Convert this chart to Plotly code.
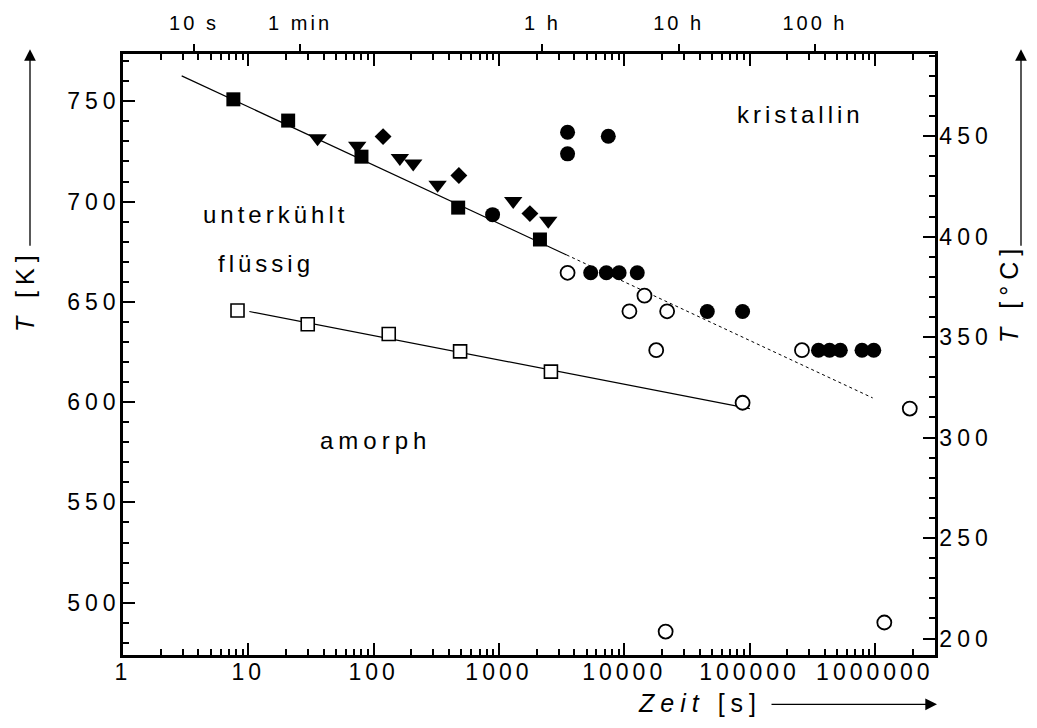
import plotly.graph_objects as go

# ---------------- data (time in s, temperature in K) ----------------
sq_t = [7.6, 20.8, 80, 473, 2125]
sq_T = [751.0, 740.4, 722.4, 697.0, 681.1]

tri_t = [35.7, 74, 162, 207, 324, 1300, 2476]
tri_T = [731.6, 727.8, 721.8, 719.0, 708.4, 700.3, 690.4]

dia_t = [119, 479, 1767]
dia_T = [732.4, 713.0, 694.0]

fc_t = [890, 3530, 3530, 7460, 5400, 7200, 9100, 12700, 46000, 88000,
        355000, 435000, 530000, 790000, 980000]
fc_T = [693.5, 734.6, 723.8, 732.6, 664.5, 664.5, 664.5, 664.5, 645.2, 645.2,
        625.9, 625.9, 625.9, 625.9, 625.9]

oc_t = [3530, 14500, 11000, 22000, 18000, 88000, 262000, 1900000, 21400, 1190000]
oc_T = [664.5, 653.1, 645.3, 645.3, 625.9, 599.7, 625.9, 596.8, 485.6, 490.1]

osq_t = [8.2, 29.8, 132, 490, 2600]
osq_T = [645.7, 638.8, 634.0, 625.3, 615.2]

fit_solid_t = [2.94, 3470]
fit_solid_T = [762.7, 673.4]
fit_dot_t = [3470, 961000]
fit_dot_T = [673.4, 602.1]
fit_am_t = [10.2, 100600]
fit_am_T = [645.2, 596.8]

bottom_ticks = [1, 10, 100, 1000, 10000, 100000, 1000000]
bottom_labels = ["1", "10", "100", "1000", "10000", "100000", "1000000"]
top_ticks = [10, 60, 3600, 36000, 360000]
top_labels = ["10 s", "1 min", "1 h", "10 h", "100 h"]
left_ticks = [500, 550, 600, 650, 700, 750]
right_ticks = [200, 250, 300, 350, 400, 450]

# ---------------- layout geometry ----------------
W, H = 1037, 728
L, R, T, B = 123, 935, 34, 655
FONT = "Liberation Sans, Arial, sans-serif"


def sp(s, ls=4):
    return '<span style="letter-spacing:%spx">%s</span>' % (ls, s)


def px(x):
    return (x - L) / (R - L)


def py(y):
    return (B - y) / (B - T)


fig = go.Figure()

line_style = dict(color="black", width=1.2)
fig.add_trace(go.Scatter(x=fit_solid_t, y=fit_solid_T, mode="lines", line=line_style))
fig.add_trace(go.Scatter(x=fit_dot_t, y=fit_dot_T, mode="lines",
                         line=dict(color="black", width=1, dash="dot")))
fig.add_trace(go.Scatter(x=fit_am_t, y=fit_am_T, mode="lines", line=line_style))

fig.add_trace(go.Scatter(x=sq_t, y=sq_T, mode="markers",
                         marker=dict(symbol="square", size=14, color="black")))
fig.add_trace(go.Scatter(x=tri_t, y=tri_T, mode="markers",
                         marker=dict(symbol="triangle-down", size=16, color="black")))
fig.add_trace(go.Scatter(x=dia_t, y=dia_T, mode="markers",
                         marker=dict(symbol="diamond", size=13, color="black")))
fig.add_trace(go.Scatter(x=fc_t, y=fc_T, mode="markers",
                         marker=dict(symbol="circle", size=15, color="black")))
fig.add_trace(go.Scatter(x=oc_t, y=oc_T, mode="markers",
                         marker=dict(symbol="circle", size=14, color="white",
                                     line=dict(color="black", width=1.8))))
fig.add_trace(go.Scatter(x=osq_t, y=osq_T, mode="markers",
                         marker=dict(symbol="square", size=13, color="white",
                                     line=dict(color="black", width=1.6))))
# dummy trace to activate secondary axes
fig.add_trace(go.Scatter(x=[None], y=[None], xaxis="x2", yaxis="y2", mode="markers"))

axis_common = dict(showline=True, linecolor="black", linewidth=2.5, showgrid=False,
                   zeroline=False, tickcolor="black", tickwidth=2,
                   tickfont=dict(family=FONT, size=23, color="black"))

fig.update_layout(
    width=W, height=H, showlegend=False,
    margin=dict(l=L, r=W - R, t=T, b=H - B, pad=0),
    paper_bgcolor="white", plot_bgcolor="white",
    xaxis=dict(type="log", range=[0, 6.48], ticks="inside", ticklen=12, mirror="ticks",
               tickmode="array", tickvals=bottom_ticks,
               ticktext=[sp(s, 4) for s in bottom_labels], ticklabelstandoff=-5,
               minor=dict(ticks="inside", ticklen=6, tickwidth=1.5, tickcolor="black",
                          dtick="D1", showgrid=False),
               **axis_common),
    xaxis2=dict(type="log", range=[0.479, 6.437], overlaying="x", side="top", anchor="y",
                ticks="outside", ticklen=7, tickmode="array", tickvals=top_ticks,
                ticktext=[sp(s, 3) for s in top_labels], ticklabelstandoff=6,
                **axis_common),
    yaxis=dict(range=[473.9, 773.6], ticks="inside", ticklen=12, tickmode="array",
               tickvals=left_ticks, ticktext=[sp(str(v), 5) for v in left_ticks],
               ticklabelstandoff=-5,
               minor=dict(ticks="inside", ticklen=6, tickwidth=1.5, tickcolor="black",
                          dtick=10, tick0=0, showgrid=False),
               **axis_common),
    yaxis2=dict(range=[191.8, 490.9], overlaying="y", side="right", anchor="x",
                ticks="inside", ticklen=12, tickmode="array", tickvals=right_ticks,
                ticktext=[sp(str(v), 5) for v in right_ticks], ticklabelstandoff=-3,
                minor=dict(ticks="inside", ticklen=6, tickwidth=1.5, tickcolor="black",
                           dtick=10, tick0=0, showgrid=False),
                **axis_common),
)
fig.update_layout(xaxis2=dict(tickfont=dict(size=20)))

ann_font = dict(family=FONT, size=24, color="black")
texts = [
    ("unterkühlt", 275, 200, 4),
    ("flüssig", 266, 250, 4),
    ("amorph", 375, 433, 5),
    ("kristallin", 800, 96, 4),
]
for s, x, y, ls in texts:
    fig.add_annotation(text=sp(s, ls), x=px(x), y=py(y), xref="paper", yref="paper",
                       showarrow=False, font=ann_font, xanchor="center", yanchor="middle")

title_font = dict(family=FONT, size=25, color="black")
fig.add_annotation(text=sp("<i>T</i> [K]", 6), x=px(25), y=py(279), xref="paper", yref="paper",
                   showarrow=False, textangle=-90, font=title_font,
                   xanchor="center", yanchor="middle")
fig.add_annotation(text=sp("<i>T</i> [°C]", 6), x=px(1009), y=py(281), xref="paper", yref="paper",
                   showarrow=False, textangle=-90, font=title_font,
                   xanchor="center", yanchor="middle")
fig.add_annotation(text=sp("<i>Zeit</i> [s]", 6), x=px(700), y=py(705), xref="paper", yref="paper",
                   showarrow=False, font=title_font, xanchor="center", yanchor="middle")

arrow = dict(showarrow=True, arrowhead=2, arrowsize=1.8, arrowwidth=1.3, arrowcolor="black",
             xref="paper", yref="paper", axref="pixel", ayref="pixel", text="")
fig.add_annotation(x=px(30), y=py(29), ax=0, ay=198, **arrow)
fig.add_annotation(x=px(1021), y=py(29), ax=0, ay=198, **arrow)
fig.add_annotation(x=px(937), y=py(706), ax=-167, ay=0, **arrow)

fig.write_html("out.html")
